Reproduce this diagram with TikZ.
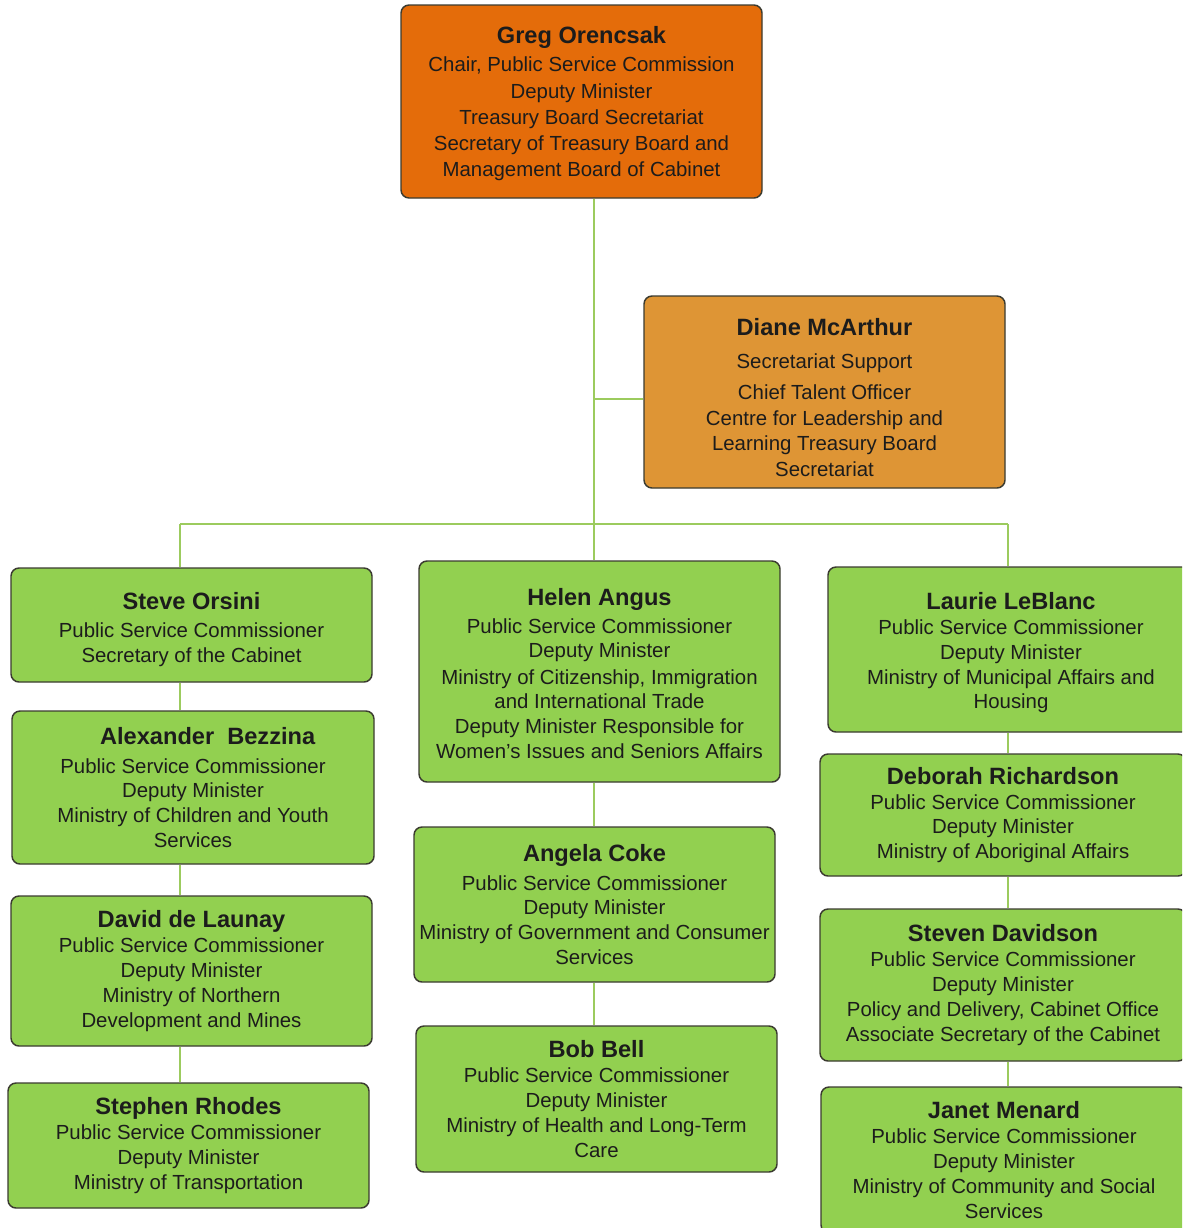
\documentclass[tikz,border=0pt]{standalone}
\usepackage{fontspec}
\setmainfont{Liberation Sans}
\usetikzlibrary{calc}
\definecolor{orangeA}{HTML}{E46C0A}
\definecolor{orangeB}{HTML}{DE9535}
\definecolor{greenbox}{HTML}{92D050}
\definecolor{bordercol}{HTML}{3B3B30}
\definecolor{linkcol}{HTML}{9CCB5E}
\definecolor{txtcol}{HTML}{1C1C1C}
\newcommand{\nm}[1]{{\fontsize{17.7}{22}\selectfont\bfseries #1}}
\newcommand{\up}[1]{\rule{0pt}{#1}}
\tikzset{
  orgbox/.style n args={3}{draw=bordercol, line width=1.1pt, rounded corners=6pt,
    fill=#1, minimum width=#2*0.75pt, minimum height=#3*0.75pt, inner sep=0pt,
    align=center, text=txtcol, font=\fontsize{15.3}{18.6}\selectfont},
  link/.style={draw=linkcol, line width=1.2pt}
}
\begin{document}
\begin{tikzpicture}[x=0.75pt,y=-0.75pt]
\clip (0,0) rectangle (1182,1228);
\fill[white] (0,0) rectangle (1182,1228);

\coordinate (tx) at (594,0);
\coordinate (lx) at (180,0);
\coordinate (rx) at (1008,0);
\coordinate (dj) at (594,399);
\coordinate (busL) at (180,524);
\coordinate (busR) at (1008,524);

\node[orgbox={orangeA}{361}{193}] (greg) at (581.5,101.5)
 {\nm{\up{16pt}Greg Orencsak}\\[2.5pt] Chair, Public Service Commission\\[1.2pt] Deputy Minister\\[1.2pt] Treasury Board Secretariat\\[1.2pt] Secretary of Treasury Board and\\[0.5pt] Management Board of Cabinet};
\node[orgbox={orangeB}{361}{192}] (diane) at (824.5,392)
 {\nm{\up{21pt}Diane McArthur}\\[6pt] Secretariat Support\\[5pt] Chief Talent Officer\\[0.5pt] Centre for Leadership and\\[0.5pt] Learning Treasury Board\\[0.5pt] Secretariat};

\node[orgbox={greenbox}{361}{114}] (steve) at (191.5,625)
 {\nm{\up{20pt}Steve Orsini}\\[2.5pt] Public Service Commissioner\\ Secretary of the Cabinet};
\node[orgbox={greenbox}{362}{153}] (alex) at (193,787.5)
 {\nm{\hspace*{22pt}Alexander~ Bezzina}\\[3pt] Public Service Commissioner\\ Deputy Minister\\ Ministry of Children and Youth\\ Services};
\node[orgbox={greenbox}{361}{150}] (david) at (191.5,971)
 {\nm{David de Launay}\\ Public Service Commissioner\\ Deputy Minister\\ Ministry of Northern\\ Development and Mines};
\node[orgbox={greenbox}{361}{125}] (stephen) at (188.5,1145.5)
 {\nm{Stephen Rhodes}\\ Public Service Commissioner\\ Deputy Minister\\ Ministry of Transportation};

\node[orgbox={greenbox}{361}{221}] (helen) at (599.5,671.5)
 {\nm{\up{16pt}Helen Angus}\\[2pt] Public Service Commissioner\\ Deputy Minister\\[1pt] Ministry of Citizenship, Immigration\\ and International Trade\\ Deputy Minister Responsible for\\ Women's Issues and Seniors Affairs};
\node[orgbox={greenbox}{361}{155}] (angela) at (594.5,904.5)
 {\nm{Angela Coke}\\[3pt] Public Service Commissioner\\ Deputy Minister\\ Ministry of Government and Consumer\\ Services};
\node[orgbox={greenbox}{361}{146}] (bob) at (596.5,1099)
 {\nm{Bob Bell}\\ Public Service Commissioner\\ Deputy Minister\\ Ministry of Health and Long-Term\\ Care};

\node[orgbox={greenbox}{366}{165}] (laurie) at (1011,649.5)
 {\nm{\up{18pt}Laurie LeBlanc}\\ Public Service Commissioner\\ Deputy Minister\\ Ministry of Municipal Affairs and\\ Housing};
\node[orgbox={greenbox}{366}{122}] (deborah) at (1003,815)
 {\nm{Deborah Richardson}\\ Public Service Commissioner\\ Deputy Minister\\ Ministry of Aboriginal Affairs};
\node[orgbox={greenbox}{366}{152}] (steven) at (1003,985)
 {\nm{Steven Davidson}\\ Public Service Commissioner\\ Deputy Minister\\ Policy and Delivery, Cabinet Office\\ Associate Secretary of the Cabinet};
\node[orgbox={greenbox}{366}{146}] (janet) at (1004,1160)
 {\nm{Janet Menard}\\ Public Service Commissioner\\ Deputy Minister\\ Ministry of Community and Social\\ Services};

% connectors
\draw[link] (greg.south -| tx) -- (helen.north -| tx);
\draw[link] (dj) -- (dj -| diane.west);
\draw[link] (busL) -- (busR);
\draw[link] (busL) -- (steve.north -| lx);
\draw[link] (busR) -- (laurie.north -| rx);
\draw[link] (steve.south -| lx) -- (alex.north -| lx);
\draw[link] (alex.south -| lx) -- (david.north -| lx);
\draw[link] (david.south -| lx) -- (stephen.north -| lx);
\draw[link] (helen.south -| tx) -- (angela.north -| tx);
\draw[link] (angela.south -| tx) -- (bob.north -| tx);
\draw[link] (laurie.south -| rx) -- (deborah.north -| rx);
\draw[link] (deborah.south -| rx) -- (steven.north -| rx);
\draw[link] (steven.south -| rx) -- (janet.north -| rx);
\end{tikzpicture}
\end{document}
